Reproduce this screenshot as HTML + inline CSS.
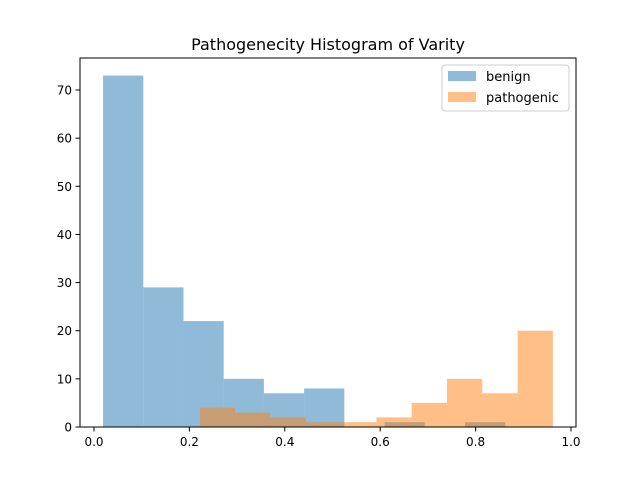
<!DOCTYPE html>
<html><head><meta charset="utf-8"><style>
body{margin:0;background:#fff}
svg{display:block;font-family:"DejaVu Sans","Liberation Sans",sans-serif}
</style></head><body>
<svg id="chart" width="640" height="480">
<rect width="640" height="480" fill="#fff"/>
<text x="328" y="50" text-anchor="middle" font-size="16">Pathogenecity Histogram of Varity</text>
<g id="bars"></g>
<rect x="80" y="58" width="496" height="369" fill="none" stroke="#000" stroke-width="1"/>
<g id="axes" font-size="12"></g>
<g>
<rect x="442" y="65" width="127" height="46" rx="3" fill="#fff" fill-opacity="0.8" stroke="#ccc"/>
<rect x="448" y="71" width="28" height="10" fill="#1f77b4" fill-opacity="0.5"/>
<text x="486" y="81" font-size="13">benign</text>
<rect x="448" y="92" width="28" height="10" fill="#ff7f0e" fill-opacity="0.5"/>
<text x="486" y="102" font-size="13">pathogenic</text>
</g>
</svg>
<script>
const benignEdgeStart = 0.019;
const benignBinWidth = 0.0843;
const benignCounts = [73, 29, 22, 10, 7, 8, 0, 1, 0, 1];
const pathoEdgeStart = 0.222;
const pathoBinWidth = 0.074;
const pathoCounts = [4, 3, 2, 1, 1, 2, 5, 10, 7, 20];
const xTicks = [0.0, 0.2, 0.4, 0.6, 0.8, 1.0];
const xTickLabels = ["0.0", "0.2", "0.4", "0.6", "0.8", "1.0"];
const yTicks = [0, 10, 20, 30, 40, 50, 60, 70];

const X = v => 94 + v * 477;
const Y = v => 427 - v * (337 / 70);
const NS = "http://www.w3.org/2000/svg";
const bars = document.getElementById("bars");
const axes = document.getElementById("axes");

function drawHist(start, w, counts, color, name) {
  counts.forEach((c, i) => {
    if (c <= 0) return;
    const r = document.createElementNS(NS, "rect");
    const x0 = X(start + i * w), x1 = X(start + (i + 1) * w);
    r.setAttribute("x", x0); r.setAttribute("width", x1 - x0);
    r.setAttribute("y", Y(c)); r.setAttribute("height", Y(0) - Y(c));
    r.setAttribute("fill", color); r.setAttribute("fill-opacity", "0.5");
    
    
    bars.appendChild(r);
  });
}
drawHist(benignEdgeStart, benignBinWidth, benignCounts, "#1f77b4", "benign");
drawHist(pathoEdgeStart, pathoBinWidth, pathoCounts, "#ff7f0e", "pathogenic");

xTicks.forEach((t, i) => {
  const l = document.createElementNS(NS, "line");
  l.setAttribute("x1", X(t)); l.setAttribute("x2", X(t));
  l.setAttribute("y1", 427); l.setAttribute("y2", 431.5); l.setAttribute("stroke", "#000");
  
  
  axes.appendChild(l);
  const tx = document.createElementNS(NS, "text");
  tx.setAttribute("x", X(t)); tx.setAttribute("y", 446); tx.setAttribute("text-anchor", "middle");
  tx.textContent = xTickLabels[i];
  
  
  axes.appendChild(tx);
});
yTicks.forEach(t => {
  const l = document.createElementNS(NS, "line");
  l.setAttribute("x1", 75.5); l.setAttribute("x2", 80);
  l.setAttribute("y1", Y(t)); l.setAttribute("y2", Y(t)); l.setAttribute("stroke", "#000");
  
  
  axes.appendChild(l);
  const tx = document.createElementNS(NS, "text");
  tx.setAttribute("x", 72); tx.setAttribute("y", Y(t) + 4.5); tx.setAttribute("text-anchor", "end");
  tx.textContent = t;
  
  
  axes.appendChild(tx);
});
</script>
</body></html>
